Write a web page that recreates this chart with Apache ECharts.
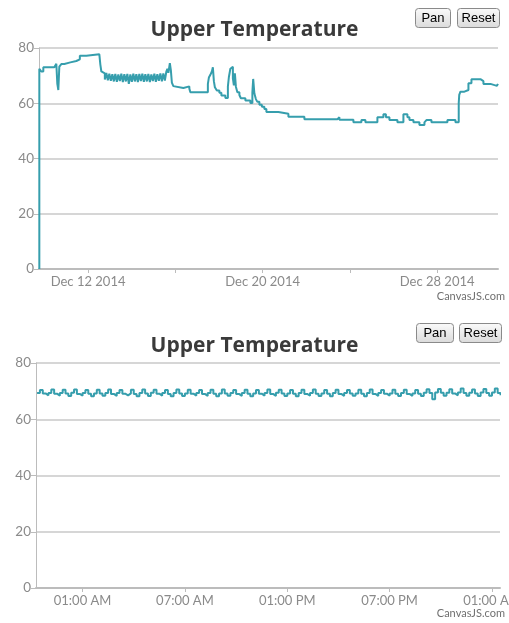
<!DOCTYPE html>
<html>
<head>
<meta charset="utf-8">
<script src="https://cdn.jsdelivr.net/npm/echarts@6/dist/echarts.min.js"></script>
<style>
  html, body { margin: 0; padding: 0; background: #fff; }
  #chart { width: 509px; height: 623px; }
</style>
</head>
<body>
<div id="chart"></div>
<script>
// top chart: reading time as day of December 2014 (UTC), with the temperature at that moment
const upperDays = [
  9.765, 9.765, 9.856, 9.948, 10.453, 10.544, 10.590, 10.636, 10.682, 10.773,
  10.911, 11.186, 11.461, 11.622, 11.920, 12.516, 12.562, 12.608,
  12.699, 12.768, 12.837, 12.905, 12.974, 13.043, 13.112, 13.181, 13.249, 13.318,
  13.387, 13.456, 13.524, 13.593, 13.662, 13.731, 13.800, 13.868, 13.937, 14.006,
  14.075, 14.143, 14.212, 14.281, 14.350, 14.419, 14.487, 14.556, 14.625, 14.694,
  14.763, 14.831, 14.900, 14.969, 15.038, 15.106, 15.175, 15.244, 15.313, 15.382,
  15.450, 15.519, 15.588,
  15.634, 15.680, 15.748, 15.794, 15.840, 15.909, 16.000, 16.367, 16.642, 16.688,
  17.491, 17.537, 17.605, 17.674, 17.720, 17.766, 17.812, 17.903, 18.018, 18.110,
  18.293, 18.408, 18.454, 18.522, 18.591, 18.637, 18.683, 18.729, 18.775, 18.843,
  18.935, 19.004, 19.210, 19.439, 19.531, 19.568, 19.623, 19.691, 19.760, 19.852,
  19.966, 20.081, 20.173, 20.723, 21.182, 21.548, 21.617, 21.915, 22.603, 22.672,
  23.428, 23.520, 24.162, 24.529, 24.712, 25.262, 25.538, 25.652, 25.813, 26.179,
  26.454, 26.638, 26.730, 26.913, 27.188, 27.418, 27.509, 27.738, 28.472, 28.839,
  28.990, 29.013, 29.068, 29.251, 29.435, 29.573, 29.985, 30.123, 30.444, 30.741,
  30.787
];
const upperTemps = [
  0, 72.5, 71.5, 73, 73.5, 74.3, 67, 64.8, 73.3, 74.2,
  74.8, 75.3, 75.9, 77.2, 77.7, 77.5, 74, 71.5,
  70.8, 68.6, 71, 68.3, 70.7, 68.1, 70.5, 67.9, 70.6, 67.8,
  70.4, 68, 70.7, 67.7, 70.5, 67.9, 70.6, 67, 70.4, 67.8,
  70.7, 67.9, 70.5, 67.7, 70.6, 68, 70.7, 67.8, 70.5, 67.9,
  70.6, 67.7, 70.4, 68, 70.7, 67.8, 70.5, 68.1, 70.8, 67.9,
  70.8, 68.2, 71.5,
  72.5, 71, 74.5, 72, 67.5, 66.2, 65.5, 66.1, 65.3, 64,
  67, 69.3, 70.3, 71.5, 73, 68, 65.8, 64.6, 63.8, 62.8,
  61.9, 66, 69.5, 72.5, 73.2, 69, 66.5, 70.8, 66, 64,
  63, 61.8, 61, 60.1, 64, 68.8, 63.5, 61.5, 60.5, 59.5,
  58.7, 57.9, 56.8, 56.2, 55.1, 55.6, 55.1, 54.2, 54.9, 54.2,
  54.9, 54.0, 53.1, 53.9, 53.1, 54.9, 56, 54.9, 53.9, 53.1,
  56, 54.9, 53.9, 53.1, 52.1, 53.1, 53.9, 53.1, 53.9, 53.1,
  60, 63, 64.2, 64.8, 67.2, 68.7, 68, 67, 66.3, 67,
  67
];

// bottom chart: one reading every 10 minutes from 22:20
const lowerStart = Date.UTC(2014, 11, 10, 22, 20);
const lowerStepMin = 10;
const lowerTemps = [
  69.3, 70.4, 69.2, 68.5, 69.3, 70.6, 69.1, 68.4,
  69.3, 70.5, 69.2, 68.3, 69.4, 70.6, 69.0, 68.4,
  69.3, 70.4, 69.1, 68.2, 69.2, 70.5, 69.2, 68.4,
  69.3, 70.6, 69.0, 68.3, 69.3, 70.4, 69.1, 68.5,
  69.2, 70.5, 69.0, 68.2, 69.3, 70.6, 69.2, 68.3,
  69.4, 70.5, 69.1, 68.4, 69.3, 70.4, 69.0, 68.2,
  69.3, 70.6, 69.2, 68.3, 69.2, 70.5, 69.1, 68.4,
  69.3, 70.4, 69.0, 68.3, 69.3, 70.5, 69.1, 68.2,
  69.2, 70.6, 69.2, 68.4, 69.3, 70.4, 69.0, 68.3,
  69.3, 70.5, 69.1, 68.2, 69.2, 70.4, 69.1, 68.4,
  69.3, 70.6, 69.0, 68.3, 69.4, 70.5, 69.2, 68.3,
  69.2, 70.4, 69.1, 68.2, 69.3, 70.5, 69.0, 68.4,
  69.3, 70.6, 69.1, 68.3, 69.2, 70.4, 69.1, 68.2,
  69.3, 70.5, 69.0, 68.3, 69.3, 70.4, 69.2, 68.4,
  69.2, 70.5, 69.1, 68.2, 69.3, 70.6, 69.0, 68.3,
  69.3, 70.4, 69.1, 68.4, 69.2, 70.5, 69.1, 68.3,
  69.3, 70.5, 69.0, 68.3, 69.2, 70.4, 69.1, 68.3,
  69.4, 70.7, 69.3, 67.1, 69.5, 70.8, 69.4, 68.4,
  69.4, 70.7, 69.2, 68.5, 69.5, 70.9, 69.3, 68.4,
  69.4, 70.6, 69.2, 68.3, 69.5, 70.8, 69.3, 68.4,
  69.5, 70.9, 69.3, 68.5
];

const upperLabelDays = [12, 20, 28];
const upperTickDays = [12, 16, 20, 24, 28];
const lowerLabelHours = [25, 31, 37, 43, 49]; // hours after Dec 10 00:00

const DAY = 24 * 3600 * 1000;
const HOUR = 3600 * 1000;
const decDay = d => Date.UTC(2014, 11, 1) + (d - 1) * DAY;
const dec10 = Date.UTC(2014, 11, 10);

let upperData = upperDays.map((d, i) => [decDay(d), upperTemps[i]]);
let lowerData = lowerTemps.map((v, i) => [lowerStart + i * lowerStepMin * 60000, v]);

const MONTHS = ['Jan','Feb','Mar','Apr','May','Jun','Jul','Aug','Sep','Oct','Nov','Dec'];
function fmtDay(val) {
    let d = new Date(val);
    return MONTHS[d.getUTCMonth()] + ' ' + d.getUTCDate() + ' ' + d.getUTCFullYear();
}
function fmtHour(val) {
    let d = new Date(val);
    let h = d.getUTCHours();
    let ap = h < 12 ? 'AM' : 'PM';
    let h12 = h % 12 === 0 ? 12 : h % 12;
    return (h12 < 10 ? '0' : '') + h12 + ':' + String(d.getUTCMinutes()).padStart(2, '0') + ' ' + ap;
}

const FONT = 'Lato';
const lineColor = '#369EAD';
const axisGray = '#bcbcbc';
const labelGray = '#8a8a8a';

function yAxisOpt(gridIndex) {
    return {
        type: 'value', gridIndex: gridIndex, min: 0, max: 80, interval: 20,
        axisLine: { show: true, lineStyle: { color: axisGray, width: 1 } },
        axisTick: { show: true, length: 5, lineStyle: { color: axisGray } },
        axisLabel: { color: labelGray, fontFamily: FONT, fontSize: 13.5, margin: 5 },
        splitLine: { lineStyle: { color: '#d6d6d6', width: 2 } }
    };
}

function xAxisOpt(gridIndex, min, max, ticks, labels, fmt) {
    return {
        type: 'value', gridIndex: gridIndex, min: min, max: max,
        axisLine: { lineStyle: { color: axisGray, width: 2 } },
        axisTick: { show: true, length: 4, lineStyle: { color: axisGray }, customValues: ticks },
        axisLabel: { color: labelGray, fontFamily: FONT, fontSize: 13, margin: 6,
                     customValues: labels, formatter: fmt, hideOverlap: false },
        splitLine: { show: false }
    };
}

function button(x, y, w, label) {
    return {
        type: 'group', left: x, top: y,
        children: [
            {
                type: 'rect', shape: { x: 0, y: 0, width: w, height: 19, r: 3 },
                style: {
                    fill: new echarts.graphic.LinearGradient(0, 0, 0, 1, [
                        { offset: 0, color: '#fbfbfb' },
                        { offset: 1, color: '#dadada' }
                    ]),
                    stroke: '#8a8a8a', lineWidth: 1
                }
            },
            {
                type: 'text', x: w / 2, y: 10,
                style: {
                    text: label, fill: '#000', font: '13px "Liberation Sans"',
                    textAlign: 'center', textVerticalAlign: 'middle'
                }
            }
        ]
    };
}

function credit(y) {
    return {
        type: 'text', right: 4, top: y,
        style: { text: 'CanvasJS.com', fill: '#707070', font: '11px Lato' }
    };
}

const titleStyle = { fontFamily: 'Open Sans', fontSize: 21, fontWeight: 'bold', color: '#3a3a3a' };

let chart = echarts.init(document.getElementById('chart'));
chart.setOption({
    animation: false,
    backgroundColor: '#fff',
    title: [
        { text: 'Upper Temperature', left: 'center', top: 15, textStyle: titleStyle },
        { text: 'Upper Temperature', left: 'center', top: 331, textStyle: titleStyle }
    ],
    grid: [
        { left: 39, right: 11, top: 48, height: 221, outerBoundsMode: 'none' },
        { left: 36, right: 9, top: 363, height: 225, outerBoundsMode: 'none' }
    ],
    xAxis: [
        xAxisOpt(0, decDay(9.75), decDay(30.79),
                 upperTickDays.map(decDay), upperLabelDays.map(decDay), fmtDay),
        xAxisOpt(1, dec10 + 22.27 * HOUR, dec10 + 49.47 * HOUR,
                 lowerLabelHours.map(h => dec10 + h * HOUR),
                 lowerLabelHours.map(h => dec10 + h * HOUR), fmtHour)
    ],
    yAxis: [yAxisOpt(0), yAxisOpt(1)],
    series: [
        {
            name: 'Upper', type: 'line', xAxisIndex: 0, yAxisIndex: 0,
            step: 'end', showSymbol: false, data: upperData,
            lineStyle: { color: lineColor, width: 2 }
        },
        {
            name: 'Upper zoomed', type: 'line', xAxisIndex: 1, yAxisIndex: 1,
            step: 'end', showSymbol: false, data: lowerData,
            lineStyle: { color: lineColor, width: 2 }
        }
    ],
    graphic: [
        button(415, 8, 35, 'Pan'),
        button(457, 8, 42, 'Reset'),
        button(416, 323, 37, 'Pan'),
        button(459, 323, 42, 'Reset'),
        credit(291),
        credit(608)
    ]
});
</script>
</body>
</html>
